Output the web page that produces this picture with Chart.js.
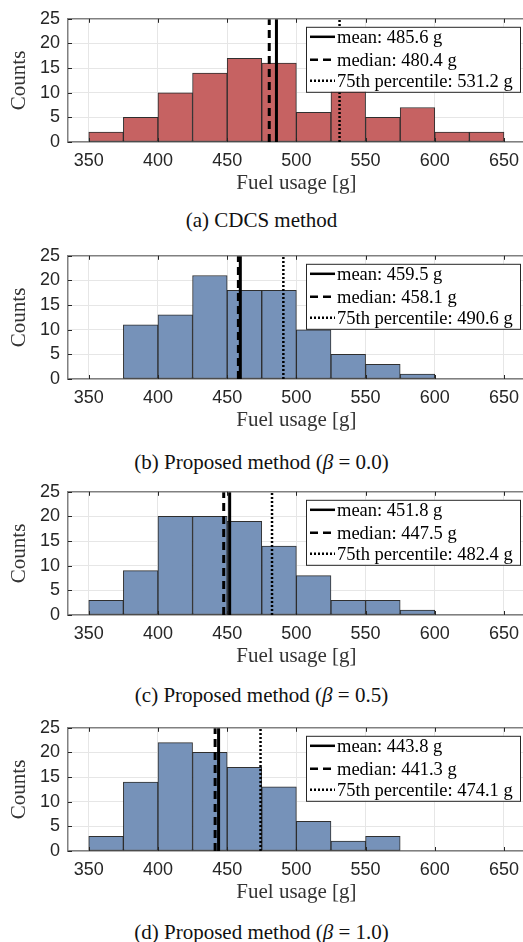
<!DOCTYPE html>
<html lang="en">
<head>
  <meta charset="UTF-8">
  <title>Fuel usage histograms</title>
  <script src="https://cdn.jsdelivr.net/npm/chart.js"></script>
  <style>
    body { margin: 0; background: #fff; width: 523px; height: 942px; overflow: hidden; position: relative; }
    .panel { position: absolute; left: 0; width: 523px; height: 205px; overflow: hidden; }
    .panel canvas { position: absolute; left: 0; top: 0; }
    .caption {
      position: absolute; left: 0; width: 523px; text-align: center;
      font-family: "Liberation Serif", serif; font-size: 21px; line-height: 24px; color: #111;
    }
  </style>
</head>
<body>

<div class="panel" style="top:0px"><canvas id="chartA" width="527" height="200"></canvas></div>
<div class="caption" style="top:208px">(a) CDCS method</div>

<div class="panel" style="top:236.7px"><canvas id="chartB" width="527" height="200"></canvas></div>
<div class="caption" style="top:450px">(b) Proposed method (<i>β</i> = 0.0)</div>

<div class="panel" style="top:473px"><canvas id="chartC" width="527" height="200"></canvas></div>
<div class="caption" style="top:683px">(c) Proposed method (<i>β</i> = 0.5)</div>

<div class="panel" style="top:709px"><canvas id="chartD" width="527" height="200"></canvas></div>
<div class="caption" style="top:920px">(d) Proposed method (<i>β</i> = 1.0)</div>

<script>
  // histogram bins (25 g wide), centres
  const binCenters = [362.5, 387.5, 412.5, 437.5, 462.5, 487.5, 512.5, 537.5, 562.5, 587.5, 612.5, 637.5];

  // counts per bin
  const cdcsCounts   = [2, 5, 10, 14, 17, 16, 6, 14, 5, 7, 2, 2];
  const beta00Counts = [0, 11, 13, 21, 18, 18, 10, 5, 3, 1, 0, 0];
  const beta05Counts = [3, 9, 20, 20, 19, 14, 8, 3, 3, 1, 0, 0];
  const beta10Counts = [3, 14, 22, 20, 17, 13, 6, 2, 3, 0, 0, 0];

  // statistics per panel (a, b, c, d)
  const meanVals   = [485.6, 459.5, 451.8, 443.8];
  const medianVals = [480.4, 458.1, 447.5, 441.3];
  const p75Vals    = [531.2, 490.6, 482.4, 474.1];

  const xTicks = [350, 400, 450, 500, 550, 600, 650];
  const yTicks = [0, 5, 10, 15, 20, 25];

  const RED = '#c66262';
  const BLUE = '#7692b9';

  // MATLAB-ish box: top border + inward tick marks
  const axesBox = {
    id: 'axesBox',
    afterDraw(chart) {
      const { ctx, chartArea: a, scales } = chart;
      ctx.save();
      ctx.strokeStyle = '#808080';
      ctx.lineWidth = 1.5;
      ctx.beginPath();
      ctx.moveTo(a.left, a.top);
      ctx.lineTo(a.right, a.top);
      ctx.stroke();
      ctx.strokeStyle = '#262626';
      ctx.lineWidth = 1;
      ctx.beginPath();
      xTicks.forEach(v => {
        const x = Math.round(scales.x.getPixelForValue(v)) + 0.5;
        ctx.moveTo(x, a.top); ctx.lineTo(x, a.top + 4);
        ctx.moveTo(x, a.bottom); ctx.lineTo(x, a.bottom - 4);
      });
      yTicks.forEach(v => {
        const y = Math.round(scales.y.getPixelForValue(v)) + 0.5;
        ctx.moveTo(a.left, y); ctx.lineTo(a.left + 4, y);
      });
      ctx.stroke();
      ctx.restore();
    }
  };

  // legend box in the upper right corner of the axes
  const legendBox = {
    id: 'legendBox',
    afterDraw(chart) {
      const { ctx, chartArea: a } = chart;
      const lines = chart.data.datasets.filter(d => d.type === 'line');
      const bx = a.left + 238, by = a.top + 8, bw = 214, bh = 65;
      const rows = [10, 33, 54];
      ctx.save();
      ctx.fillStyle = '#fff';
      ctx.fillRect(bx, by, bw, bh);
      ctx.strokeStyle = '#262626';
      ctx.lineWidth = 1;
      ctx.strokeRect(bx + 0.5, by + 0.5, bw, bh);
      ctx.font = '18.5px "Liberation Serif", serif';
      ctx.textBaseline = 'middle';
      ctx.fillStyle = '#000';
      lines.forEach((d, i) => {
        const y = by + rows[i];
        ctx.strokeStyle = '#000';
        ctx.lineWidth = d.legendWidth;
        ctx.setLineDash(d.borderDash);
        ctx.beginPath();
        ctx.moveTo(bx + 4, y);
        ctx.lineTo(bx + 29, y);
        ctx.stroke();
        ctx.setLineDash([]);
        ctx.fillText(d.label, bx + 31, y + 1);
      });
      ctx.restore();
    }
  };

  function vline(label, v, width, dash, legendWidth) {
    return {
      type: 'line',
      label: label,
      data: [{ x: v, y: 0 }, { x: v, y: 25 }],
      borderColor: '#000',
      borderWidth: width,
      borderDash: dash,
      legendWidth: legendWidth,
      pointRadius: 0,
      order: 0
    };
  }

  function makeHistogram(id, counts, color, i) {
    const ctx = document.getElementById(id).getContext('2d');
    new Chart(ctx, {
      type: 'bar',
      data: {
        datasets: [
          {
            label: 'Counts',
            data: binCenters.map((c, k) => ({ x: c, y: counts[k] })),
            backgroundColor: color,
            borderColor: 'rgba(25,25,25,0.9)',
            borderWidth: 1,
            borderSkipped: false,
            barPercentage: 1,
            categoryPercentage: 1,
            order: 2
          },
          vline('mean: ' + meanVals[i].toFixed(1) + ' g', meanVals[i], 3, [], 2.5),
          vline('median: ' + medianVals[i].toFixed(1) + ' g', medianVals[i], 3, [8, 5], 2.5),
          vline('75th percentile: ' + p75Vals[i].toFixed(1) + ' g', p75Vals[i], 2.5, [2, 2], 2.5)
        ]
      },
      options: {
        responsive: false,
        animation: false,
        layout: { padding: { top: 14, left: 0, right: 0, bottom: 0 } },
        plugins: { legend: { display: false }, tooltip: { enabled: false } },
        scales: {
          x: {
            type: 'linear',
            offset: false,
            min: 335,
            max: 665,
            afterBuildTicks: s => { s.ticks = xTicks.map(v => ({ value: v })); },
            afterFit: s => { s.height = 58; },
            grid: { color: '#e6e6e6', drawTicks: false, offset: false },
            border: { color: '#808080', width: 1.5 },
            ticks: { padding: 8, color: '#262626', font: { family: '"Liberation Sans", Arial, sans-serif', size: 18 } },
            title: { display: true, text: 'Fuel usage [g]', color: '#333', padding: { top: 0, bottom: 4 },
                     font: { family: '"Liberation Serif", serif', size: 21 } }
          },
          y: {
            min: 0,
            max: 25,
            afterBuildTicks: s => { s.ticks = yTicks.map(v => ({ value: v })); },
            afterFit: s => { s.width = 68; },
            grid: { color: '#e6e6e6', drawTicks: false },
            border: { color: '#808080', width: 1.5 },
            ticks: { padding: 8, color: '#262626', font: { family: '"Liberation Sans", Arial, sans-serif', size: 18 } },
            title: { display: true, text: 'Counts', color: '#333', padding: { top: 7, bottom: 0 },
                     font: { family: '"Liberation Serif", serif', size: 21 } }
          }
        }
      },
      plugins: [axesBox, legendBox]
    });
  }

  makeHistogram('chartA', cdcsCounts, RED, 0);
  makeHistogram('chartB', beta00Counts, BLUE, 1);
  makeHistogram('chartC', beta05Counts, BLUE, 2);
  makeHistogram('chartD', beta10Counts, BLUE, 3);
</script>

</body>
</html>
